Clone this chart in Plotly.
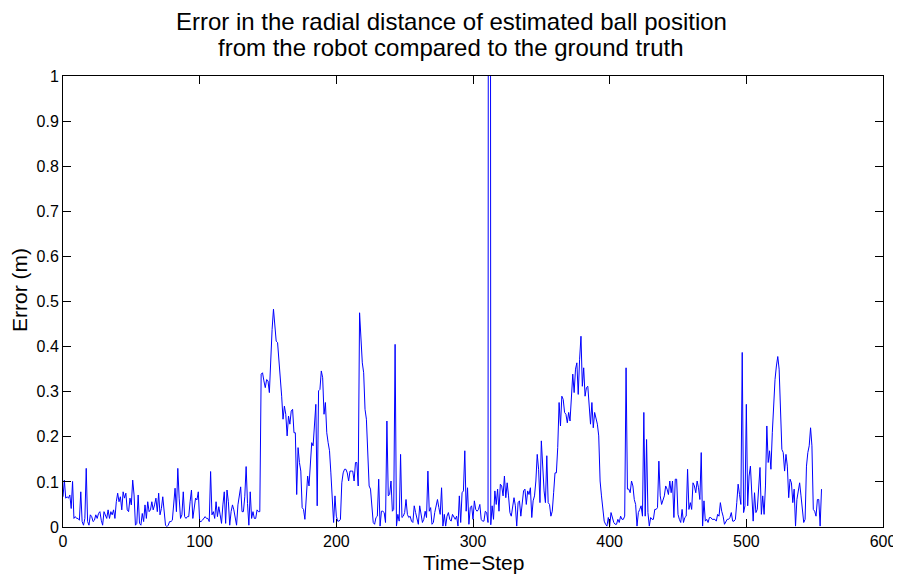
import plotly.graph_objects as go

seg1 = [0.067, 0.104, 0.064, 0.067, 0.064, 0.071, 0.041, 0.101, 0.019, 0.023, 0.019, 0.019, 0.015, 0.078,
        0.012, 0.004, 0.019, 0.130, 0.012, 0.004, 0.027, 0.023, 0.012, 0.015, 0.027, 0.019, 0.030, 0.034,
        0.015, 0.004, 0.034, 0.027, 0.019, 0.038, 0.019, 0.034, 0.027, 0.038, 0.019, 0.056, 0.075, 0.056,
        0.067, 0.038, 0.078, 0.064, 0.075, 0.038, 0.034, 0.064, 0.049, 0.104, 0.071, 0.004, 0.008, 0.071,
        0.008, 0.004, 0.030, 0.012, 0.049, 0.019, 0.056, 0.034, 0.038, 0.056, 0.038, 0.049, 0.064, 0.034,
        0.075, 0.027, 0.041, 0.067, 0.034, 0.004, 0.001, 0.004, 0.012, 0.012, 0.015, 0.049, 0.086, 0.034,
        0.130, 0.064, 0.019, 0.027, 0.078, 0.023, 0.019, 0.023, 0.023, 0.056, 0.082, 0.019, 0.041, 0.064,
        0.060, 0.078]
seg2 = [0.012, 0.012, 0.015, 0.019, 0.023, 0.019, 0.019, 0.012, 0.123, 0.027, 0.034, 0.019, 0.056, 0.023,
        0.045, 0.027, 0.008, 0.049, 0.078, 0.008, 0.082, 0.056, 0.004, 0.034, 0.049, 0.038, 0.015, 0.004,
        0.049, 0.071, 0.089, 0.034, 0.034, 0.067, 0.134, 0.052, 0.004, 0.078, 0.019, 0.034, 0.019, 0.019,
        0.038, 0.034, 0.034,
        0.339, 0.342, 0.324, 0.309, 0.327, 0.324, 0.298, 0.394, 0.438, 0.483, 0.446, 0.412, 0.409, 0.372,
        0.346, 0.290, 0.239, 0.268, 0.250, 0.202, 0.246, 0.228, 0.257, 0.261, 0.209, 0.209, 0.072, 0.176,
        0.143, 0.124, 0.043, 0.039, 0.017, 0.061, 0.113, 0.091, 0.143, 0.187, 0.180, 0.217, 0.272, 0.047,
        0.302, 0.305, 0.346, 0.331, 0.250, 0.276]
seg3 = [0.209, 0.187, 0.169, 0.120, 0.054, 0.010, 0.069, 0.024, 0.013, 0.013, 0.017, 0.098, 0.120, 0.128, 0.128,
        0.120, 0.102, 0.124, 0.124, 0.124, 0.102, 0.143, 0.143, 0.091, 0.475, 0.409, 0.364, 0.342, 0.261, 0.239,
        0.180, 0.091, 0.084, 0.050, 0.010, 0.006, 0.021, 0.024, 0.106, 0.002, 0.035, 0.035, 0.032, 0.010, 0.235,
        0.069, 0.072, 0.102, 0.035, 0.039, 0.405, 0.002, 0.028, 0.013, 0.161, 0.021, 0.024, 0.032, 0.061, 0.028,
        0.021, 0.024, 0.013, 0.010, 0.047, 0.032, 0.017, 0.006, 0.047, 0.032, 0.010, 0.017, 0.035, 0.021, 0.124,
        0.035, 0.043, 0.006, 0.010, 0.032, 0.050, 0.061, 0.043, 0.028, 0.087, 0.002, 0.028, 0.002, 0.024, 0.032,
        0.017, 0.013, 0.028, 0.021, 0.017]
seg4 = [0.024, 0.002, 0.069, 0.010, 0.076, 0.080, 0.169, 0.035, 0.087, 0.006, 0.043, 0.047, 0.017, 0.058, 0.039,
        0.035, 0.039, 0.050, 0.017, 0.013, 0.013, 0.035, 0.032, 0.010, 6.0, 0.005, 0.047, 0.017, 0.080, 0.050,
        0.084, 0.035, 0.095, 0.091, 0.069, 0.113, 0.065, 0.098, 0.069, 0.032, 0.024, 0.047, 0.065, 0.047,
        0.002, 0.054, 0.058, 0.024, 0.047, 0.080, 0.084, 0.050, 0.080, 0.072, 0.087, 0.021, 0.058, 0.069, 0.102,
        0.161, 0.128, 0.054, 0.191, 0.120, 0.080, 0.054, 0.158, 0.054, 0.050, 0.024, 0.035, 0.076, 0.120, 0.120,
        0.176, 0.276, 0.224, 0.290, 0.283, 0.254, 0.250, 0.231, 0.254, 0.235, 0.279, 0.339, 0.298, 0.350, 0.364,
        0.294, 0.372, 0.423, 0.312, 0.353, 0.290]
seg5 = [0.309, 0.312, 0.265, 0.228, 0.276, 0.220, 0.254, 0.242, 0.228, 0.202, 0.102, 0.069, 0.047, 0.013, 0.006,
        0.002, 0.021, 0.002, 0.032, 0.017, 0.010, 0.006, 0.006, 0.017, 0.010, 0.024, 0.017, 0.017, 0.024, 0.353,
        0.084, 0.084, 0.076, 0.102, 0.091, 0.061, 0.050, 0.002, 0.032, 0.039, 0.047, 0.024, 0.254, 0.024, 0.194,
        0.032, 0.002, 0.021, 0.017, 0.017, 0.039, 0.039, 0.043, 0.146, 0.069, 0.050, 0.061, 0.069, 0.091,
        0.084, 0.072, 0.102, 0.076, 0.102, 0.021, 0.106, 0.106, 0.028, 0.017, 0.010, 0.039, 0.010, 0.021, 0.024,
        0.128, 0.039, 0.054, 0.039, 0.098, 0.091, 0.076, 0.102, 0.087, 0.061, 0.165, 0.002, 0.058, 0.013, 0.017,
        0.010, 0.021, 0.021, 0.017, 0.017, 0.017]
seg6 = [0.013, 0.028, 0.024, 0.054, 0.035, 0.024, 0.006, 0.013, 0.017, 0.017, 0.021, 0.032, 0.013, 0.013, 0.017,
        0.054, 0.095, 0.072, 0.050, 0.387, 0.032, 0.047, 0.272, 0.047, 0.113, 0.135, 0.076, 0.013, 0.076,
        0.032, 0.039, 0.095, 0.132, 0.028, 0.069, 0.028, 0.091, 0.224, 0.143, 0.169, 0.128, 0.209, 0.283,
        0.327, 0.357, 0.378, 0.350, 0.261, 0.172, 0.165, 0.124, 0.161, 0.135, 0.065, 0.106, 0.098, 0.054, 0.084,
        0.002, 0.061, 0.076, 0.098, 0.069, 0.032, 0.010, 0.017, 0.135, 0.165, 0.180, 0.220, 0.180, 0.039, 0.035,
        0.024, 0.061, 0.061, 0.002, 0.084]

error = seg1 + seg2 + seg3 + seg4 + seg5 + seg6
time_step = list(range(len(error)))

x_ticks = [0, 100, 200, 300, 400, 500, 600]
y_ticks = [0, 0.1, 0.2, 0.3, 0.4, 0.5, 0.6, 0.7, 0.8, 0.9, 1]
y_tick_text = ["0", "0.1", "0.2", "0.3", "0.4", "0.5", "0.6", "0.7", "0.8", "0.9", "1"]
title_lines = ["Error in the radial distance of estimated ball position",
               "from the robot compared to the ground truth"]
x_title = "Time\u2212Step"
y_title = "Error (m)"

fig = go.Figure()
fig.add_trace(go.Scatter(x=time_step, y=error, mode="lines",
                         line=dict(color="#0000ff", width=1), showlegend=False))

font = "Liberation Sans, Arial, Helvetica, sans-serif"
axis_common = dict(showline=True, linecolor="black", linewidth=1, mirror="ticks",
                   ticks="inside", ticklen=8, tickwidth=1, tickcolor="black",
                   showgrid=False, zeroline=False, automargin=False,
                   tickfont=dict(family=font, size=16, color="black"))

# page body has an 8px default margin, so the figure is sized/placed to compensate
fig.update_layout(
    width=893, height=566,
    margin=dict(l=55, r=18, t=68, b=47),
    paper_bgcolor="white", plot_bgcolor="white",
    xaxis=dict(range=[0, 600], tickvals=x_ticks, ticktext=[str(v) for v in x_ticks], **axis_common),
    yaxis=dict(range=[0, 1], tickvals=y_ticks, ticktext=y_tick_text, **axis_common),
)

fig.add_annotation(text=title_lines[0], xref="paper", yref="paper", x=0.4732, y=1,
                   xanchor="center", yanchor="middle", yshift=55, showarrow=False,
                   font=dict(family=font, size=24, color="black"))
fig.add_annotation(text=title_lines[1], xref="paper", yref="paper", x=0.4732, y=1,
                   xanchor="center", yanchor="middle", yshift=29, showarrow=False,
                   font=dict(family=font, size=24, color="black"))
fig.add_annotation(text=x_title, xref="paper", yref="paper", x=0.5, y=0,
                   xanchor="center", yanchor="middle", yshift=-35, showarrow=False,
                   font=dict(family=font, size=21, color="black"))
fig.add_annotation(text=y_title, xref="paper", yref="paper", x=0, y=0.5255,
                   xanchor="center", yanchor="middle", xshift=-43, showarrow=False,
                   textangle=-90, font=dict(family=font, size=21, color="black"))

fig.write_html("out.html")
